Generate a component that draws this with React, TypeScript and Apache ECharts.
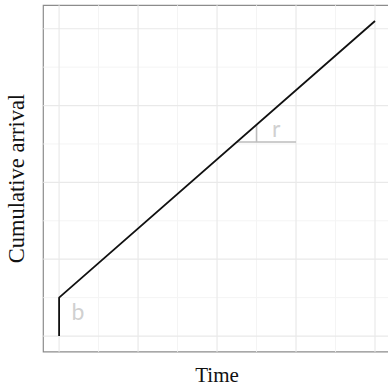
import React, { useEffect, useRef } from "react";
import * as echarts from "echarts";

const lineX = [0, 0, 4];
const lineY = [0, 0.5, 4.1];
const majorTicks = [0, 1, 2, 3, 4];
const minorTicks = [0.5, 1.5, 2.5, 3.5];
const rHoriz = [[2.25, 2.525], [3, 2.525]];
const rVert = [[2.5, 2.525], [2.5, 2.75]];
const labels = [
  { name: "b", x: 0.24, y: 0.33 },
  { name: "r", x: 2.75, y: 2.71 },
];
const xLim = [-0.2, 4.2];
const yLim = [-0.205, 4.305];

export default function App() {
  const ref = useRef<HTMLDivElement>(null);
  useEffect(() => {
    document.body.style.margin = "0";
    const chart = echarts.init(ref.current!, null, { renderer: "svg" });
    const gridSeries: any[] = [];
    const addV = (x: number, color: string, w: number) =>
      gridSeries.push({
        type: "line", data: [[x, yLim[0]], [x, yLim[1]]], showSymbol: false, silent: true,
        lineStyle: { color, width: w }, z: 1,
      });
    const addH = (y: number, color: string, w: number) =>
      gridSeries.push({
        type: "line", data: [[xLim[0], y], [xLim[1], y]], showSymbol: false, silent: true,
        lineStyle: { color, width: w }, z: 1,
      });
    minorTicks.forEach((v) => { addV(v, "#f4f4f4", 1); addH(v, "#f4f4f4", 1); });
    majorTicks.forEach((v) => { addV(v, "#e9e9e9", 1.2); addH(v, "#e9e9e9", 1.2); });

    chart.setOption({
      animation: false,
      grid: {
        left: 43.3, top: 5.3, width: 347.5, height: 346.5,
        outerBoundsMode: "none", containLabel: false,
        show: true, borderColor: "#8c8c8c", borderWidth: 1.2, backgroundColor: "#fff",
      },
      xAxis: {
        type: "value", min: xLim[0], max: xLim[1],
        axisLine: { show: false }, axisTick: { show: false }, axisLabel: { show: false },
        splitLine: { show: false },
        name: "Time", nameLocation: "middle", nameGap: 13,
        nameTextStyle: { fontFamily: "Liberation Serif", fontSize: 21, color: "#111" },
      },
      yAxis: {
        type: "value", min: yLim[0], max: yLim[1],
        axisLine: { show: false }, axisTick: { show: false }, axisLabel: { show: false },
        splitLine: { show: false },
        name: "Cumulative arrival", nameLocation: "middle", nameGap: 15,
        nameTextStyle: { fontFamily: "Liberation Serif", fontSize: 22.5, color: "#111" },
      },
      series: [
        ...gridSeries,
        {
          type: "line", data: rHoriz, showSymbol: false, silent: true,
          lineStyle: { color: "#bdbdbd", width: 1.6 }, z: 2,
        },
        {
          type: "line", data: rVert, showSymbol: false, silent: true,
          lineStyle: { color: "#bdbdbd", width: 1.6 }, z: 2,
        },
        {
          type: "line", data: lineX.map((x, i) => [x, lineY[i]]), showSymbol: false,
          lineStyle: { color: "#111", width: 1.8 }, z: 3,
        },
        {
          type: "scatter", symbolSize: 0, z: 4,
          data: labels.map((l) => ({ name: l.name, value: [l.x, l.y] })),
          label: {
            show: true, position: "inside", formatter: (p: any) => p.name,
            fontFamily: "Lato", fontSize: 23, color: "#c4c4c4",
          },
        },
      ],
    });
    return () => chart.dispose();
  }, []);
  return <div ref={ref} style={{ width: 388, height: 388 }} />;
}
